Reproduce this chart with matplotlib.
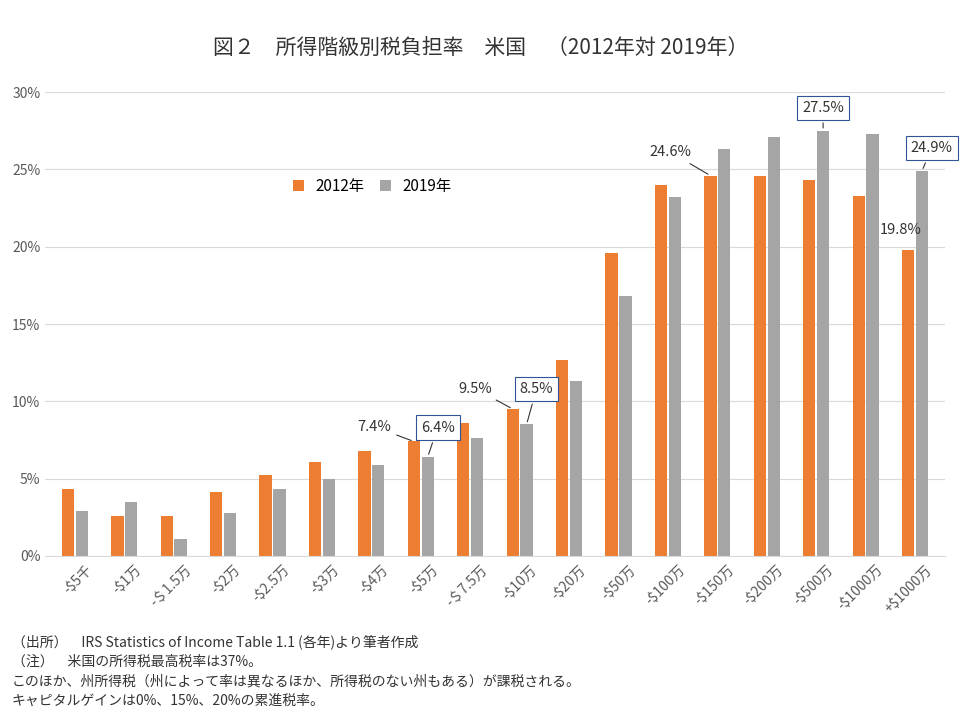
import matplotlib.pyplot as plt
import numpy as np
from matplotlib.transforms import ScaledTranslation

plt.rcParams['font.family'] = ['Noto Sans CJK JP', 'DejaVu Sans']

categories = ["-$5千", "-$1万", "-＄1.5万", "-$2万", "-$2.5万", "-$3万", "-$4万", "-$5万",
              "-＄7.5万", "-$10万", "-$20万", "-$50万", "-$100万", "-$150万", "-$200万",
              "-$500万", "-$1000万", "+$1000万"]
rate_2012 = [4.3, 2.6, 2.6, 4.1, 5.2, 6.1, 6.8, 7.4, 8.6, 9.5, 12.7, 19.6, 24.0, 24.6, 24.6, 24.3, 23.3, 19.8]
rate_2019 = [2.9, 3.5, 1.1, 2.8, 4.3, 5.0, 5.9, 6.4, 7.6, 8.5, 11.3, 16.8, 23.2, 26.3, 27.1, 27.5, 27.3, 24.9]

orange = "#ED7D31"
gray = "#A5A5A5"

fig = plt.figure(figsize=(9.62, 7.2), dpi=100)
ax = fig.add_axes([0.047, 0.228, 0.935, 0.644])
x = np.arange(len(categories))
w = 0.25
ax.bar(x - 0.14, rate_2012, w, color=orange, label="2012年")
ax.bar(x + 0.14, rate_2019, w, color=gray, label="2019年")

ax.set_xlim(-0.6, len(categories) - 0.4)
ax.set_ylim(0, 30)
ax.set_yticks(range(0, 31, 5))
ax.set_yticklabels([f"{v}%" for v in range(0, 31, 5)], color="#595959", fontsize=10)
ax.yaxis.grid(True, color="#D9D9D9", linewidth=0.8)
ax.set_axisbelow(True)
for s in ["top", "right", "left"]:
    ax.spines[s].set_visible(False)
ax.spines["bottom"].set_color("#D9D9D9")
ax.tick_params(length=0)
ax.set_xticks(x)
ax.set_xticklabels(categories, rotation=45, ha="right", rotation_mode="anchor",
                   color="#595959", fontsize=10)
# shift labels so they sit centred under their group like the original
for lbl in ax.get_xticklabels():
    lbl.set_transform(lbl.get_transform() + ScaledTranslation(0.1, -0.02, fig.dpi_scale_trans))

ax.legend(loc="upper left", bbox_to_anchor=(0.26, 0.845), ncol=2, frameon=False,
          fontsize=11, handlelength=0.7, columnspacing=1.0)

fig.text(0.5, 0.925, "図２　所得階級別税負担率　米国　（2012年対 2019年）",
         ha="center", fontsize=15, color="#333333")

# annotated values: (series, index, bar offset, text offset in data units, boxed)
notes = [
    (rate_2012, 7, -0.14, (-0.8, 0.95), False),
    (rate_2019, 7, 0.14, (0.2, 1.9), True),
    (rate_2012, 9, -0.14, (-0.75, 1.3), False),
    (rate_2019, 9, 0.14, (0.2, 2.3), True),
    (rate_2012, 13, -0.14, (-0.8, 1.5), False),
    (rate_2019, 15, 0.14, (0.0, 1.5), True),
    (rate_2019, 17, 0.14, (0.2, 1.5), True),
]
for vals, i, dx, (ox, oy), boxed in notes:
    bbox = dict(boxstyle="square,pad=0.35", fc="white", ec="#2F5597", lw=0.8) if boxed else None
    ax.annotate(f"{vals[i]:.1f}%", xy=(i + dx, vals[i]), xytext=(i + dx + ox, vals[i] + oy),
                ha="center", va="center", fontsize=10.5, color="#333333", bbox=bbox,
                arrowprops=dict(arrowstyle="-", color="#333333", lw=0.8))
ax.text(17 - 0.3, 20.6, "19.8%", ha="center", va="bottom", fontsize=10.5, color="#333333")

footnotes = ["（出所）　IRS Statistics of Income Table 1.1 (各年)より筆者作成",
             "（注）　米国の所得税最高税率は37%。",
             "このほか、州所得税（州によって率は異なるほか、所得税のない州もある）が課税される。",
             "キャピタルゲインは0%、15%、20%の累進税率。"]
for k, line in enumerate(footnotes):
    fig.text(0.012, 0.108 - k * 0.027, line, fontsize=10, color="#333333", va="center")

fig.savefig("out.png", dpi=100)
